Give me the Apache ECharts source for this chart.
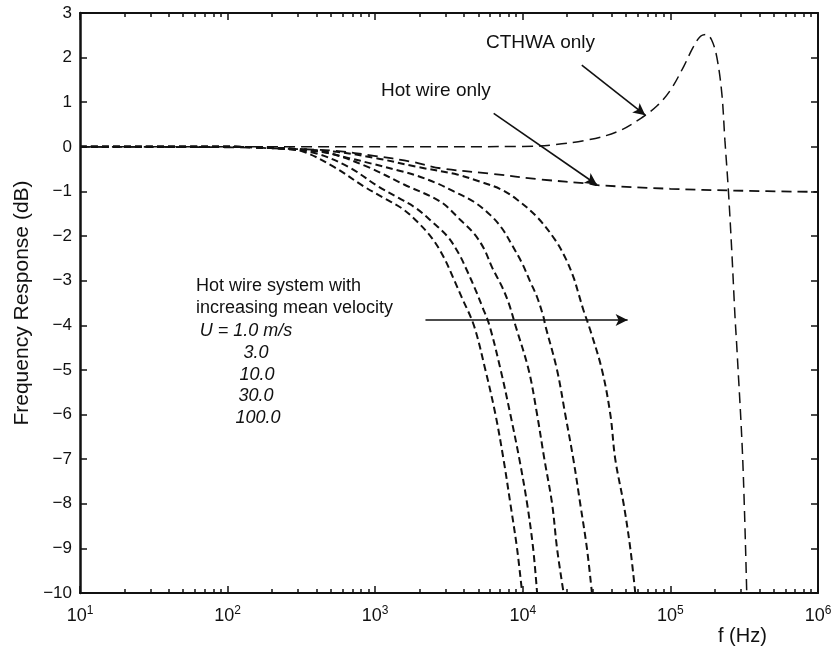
<!DOCTYPE html>
<html>
<head>
<meta charset="utf-8">
<script src="https://cdn.jsdelivr.net/npm/echarts@6/dist/echarts.min.js"></script>
<style>
  html, body { margin: 0; padding: 0; background: #fff; }
  #chart { width: 836px; height: 647px; }
</style>
</head>
<body>
<div id="chart"></div>
<script>
// 数据：[频率 Hz, 响应 dB]
var hotWireOnly = [[10, 0], [100, -0.01], [300, -0.05], [540, -0.09], [980, -0.2], [1740, -0.33],
  [2770, -0.48], [6030, -0.6], [13200, -0.73], [28600, -0.83], [32000, -0.86], [100000, -0.94],
  [270000, -0.98], [1000000, -1.01]];

var cthwaOnly = [[10, 0], [1000, 0], [10000, 0.01], [15500, 0.04], [27200, 0.15], [43700, 0.34],
  [63100, 0.64], [81300, 0.92], [100000, 1.27], [123000, 1.8], [143000, 2.24], [160000, 2.48],
  [175000, 2.52], [190000, 2.4], [206000, 2.02], [223000, 1.2], [234000, 0.15], [247000, -0.97],
  [261000, -2.39], [274000, -3.81], [282000, -4.5], [309000, -7], [329000, -10]];

var systemU1 = [[10, 0], [100, 0], [200, -0.02], [320, -0.1], [525, -0.45], [840, -0.89],
  [1150, -1.15], [1520, -1.38], [1930, -1.68], [2430, -2.05], [2920, -2.48], [3390, -2.95],
  [3890, -3.4], [4660, -4.0], [5580, -5], [6530, -6], [7400, -7], [8240, -8], [9140, -9], [9900, -10]];

var systemU3 = [[10, 0], [100, 0], [250, -0.05], [400, -0.15], [660, -0.45], [1050, -0.89],
  [1450, -1.15], [1900, -1.38], [2430, -1.68], [3090, -2.01], [3680, -2.39], [4170, -2.76],
  [4790, -3.21], [5310, -3.58], [5940, -4.0], [7080, -5], [8240, -6], [9480, -7], [10700, -8],
  [11750, -9], [12500, -10]];

var systemU10 = [[10, 0], [100, 0], [300, -0.05], [500, -0.15], [890, -0.45], [1580, -0.85],
  [2770, -1.23], [3780, -1.64], [4660, -1.94], [5450, -2.28], [6170, -2.69], [7240, -3.14],
  [8040, -3.51], [8910, -4.0], [10960, -5], [12500, -6], [14000, -7], [15800, -8], [17060, -9],
  [18900, -10]];

var systemU30 = [[10, 0], [100, 0], [400, -0.1], [680, -0.26], [930, -0.37], [1480, -0.54],
  [1930, -0.65], [2630, -0.82], [3410, -1.0], [4660, -1.23], [6030, -1.53], [7240, -1.83],
  [8450, -2.2], [9890, -2.61], [11220, -3.02], [12470, -3.36], [13800, -3.81], [14200, -4.0],
  [17060, -5], [19400, -6], [22000, -7], [24500, -8], [27200, -9], [29400, -10]];

var systemU100 = [[10, 0], [100, 0], [500, -0.1], [1000, -0.25], [1930, -0.45], [3590, -0.62],
  [5130, -0.78], [7080, -0.95], [9120, -1.18], [12470, -1.57], [16600, -2.09], [19500, -2.5],
  [22100, -2.93], [24000, -3.32], [25700, -3.65], [28600, -4.1], [34400, -5], [39200, -6],
  [42300, -7], [48200, -8], [53500, -9], [57800, -10]];

// 箭头：[[起点], [终点]]
var arrowCthwa = [[25100, 1.83], [67600, 0.71]];
var arrowHotWire = [[6350, 0.75], [31800, -0.85]];
var arrowVelocity = [[2190, -3.88], [51300, -3.88]];

// 刻度
var decadeTicks = [10, 100, 1000, 10000, 100000, 1000000];
var minorTicks = [20, 30, 40, 50, 60, 70, 80, 90,
  200, 300, 400, 500, 600, 700, 800, 900,
  2000, 3000, 4000, 5000, 6000, 7000, 8000, 9000,
  20000, 30000, 40000, 50000, 60000, 70000, 80000, 90000,
  200000, 300000, 400000, 500000, 600000, 700000, 800000, 900000];

var velocityLines = ['U = 1.0 m/s', '3.0', '10.0', '30.0', '100.0'];

var FONT = '"Liberation Sans", Arial, sans-serif';
var INK = '#111';

var chartDom = document.getElementById('chart');
var myChart = echarts.init(chartDom);

function xAxisBase(position, extra) {
  var axis = {
    type: 'log',
    logBase: 10,
    min: 10,
    max: 1000000,
    position: position,
    axisLine: { show: true, onZero: false, lineStyle: { color: INK, width: 2 } },
    axisTick: { show: true, inside: true, length: 4, customValues: minorTicks.concat(decadeTicks),
      lineStyle: { color: INK, width: 1.5 } },
    axisLabel: { show: false },
    splitLine: { show: false }
  };
  return Object.assign(axis, extra || {});
}

function dashed(data, dash, width) {
  return {
    type: 'line',
    data: data,
    smooth: 0.35,
    showSymbol: false,
    symbol: 'none',
    silent: true,
    clip: true,
    lineStyle: { color: INK, width: width, type: dash }
  };
}

function arrow(pair) {
  return [{ coord: pair[0] }, { coord: pair[1] }];
}

var texts = [
  { text: 'CTHWA only', x: 486, y: 45, size: 19 },
  { text: 'Hot wire only', x: 381, y: 93, size: 19 },
  { text: 'Hot wire system with', x: 196, y: 288, size: 18 },
  { text: 'increasing mean velocity', x: 196, y: 310, size: 18 }
];
var graphics = texts.map(function (t) {
  return {
    type: 'text', left: t.x, top: t.y - t.size * 0.6, silent: true,
    style: { text: t.text, font: t.size + 'px ' + FONT, fill: INK }
  };
});
var velocityCenters = [246, 256, 257, 256, 258];
velocityLines.forEach(function (label, i) {
  graphics.push({
    type: 'text', silent: true,
    x: velocityCenters[i], y: 331 + i * 21.8,
    style: { text: label, font: 'italic 18px ' + FONT, fill: INK, textAlign: 'center', textVerticalAlign: 'middle' }
  });
});
graphics.push({
  type: 'text', silent: true, x: 718, y: 636,
  style: { text: 'f (Hz)', font: '20px ' + FONT, fill: INK, textAlign: 'left', textVerticalAlign: 'middle' }
});

var option = {
  animation: false,
  backgroundColor: '#fff',
  grid: { left: 80, right: 18, top: 13, bottom: 54 },
  xAxis: [
    xAxisBase('bottom', {
      axisLabel: {
        show: true,
        margin: 12,
        customValues: decadeTicks,
        formatter: function (v) {
          return '{b|10}{s|' + Math.round(Math.log10(v)) + '}';
        },
        rich: {
          b: { fontSize: 18, fontFamily: FONT, color: INK, lineHeight: 20, verticalAlign: 'bottom' },
          s: { fontSize: 12, fontFamily: FONT, color: INK, lineHeight: 12, verticalAlign: 'top' }
        }
      }
    }),
    xAxisBase('bottom', { axisTick: { show: true, inside: true, length: 7, customValues: decadeTicks,
      lineStyle: { color: INK, width: 1.5 } }, axisLine: { show: false, onZero: false } }),
    xAxisBase('top'),
    xAxisBase('top', { axisTick: { show: true, inside: true, length: 7, customValues: decadeTicks,
      lineStyle: { color: INK, width: 1.5 } }, axisLine: { show: false, onZero: false } })
  ],
  yAxis: [
    {
      type: 'value',
      min: -10,
      max: 3,
      interval: 1,
      position: 'left',
      name: 'Frequency Response (dB)',
      nameLocation: 'middle',
      nameGap: 43,
      nameTextStyle: { fontSize: 21, fontFamily: FONT, color: INK },
      axisLine: { show: true, onZero: false, lineStyle: { color: INK, width: 2.5 } },
      axisTick: { show: true, inside: true, length: 7, lineStyle: { color: INK, width: 1.5 } },
      axisLabel: {
        margin: 8,
        fontSize: 17,
        fontFamily: FONT,
        color: INK,
        formatter: function (v) { return String(v).replace('-', '\u2212'); }
      },
      splitLine: { show: false }
    },
    {
      type: 'value',
      min: -10,
      max: 3,
      interval: 1,
      position: 'right',
      axisLine: { show: true, onZero: false, lineStyle: { color: INK, width: 2 } },
      axisTick: { show: true, inside: true, length: 7, lineStyle: { color: INK, width: 1.5 } },
      axisLabel: { show: false },
      splitLine: { show: false }
    }
  ],
  series: [
    dashed(systemU1, [7, 4], 2),
    dashed(systemU3, [7, 4], 2),
    dashed(systemU10, [7, 4], 2),
    dashed(systemU30, [7, 4], 2),
    dashed(systemU100, [7, 4], 2),
    dashed(hotWireOnly, [10, 6], 1.8),
    Object.assign(dashed(cthwaOnly, [11, 6], 1.5), {
      markLine: {
        silent: true,
        symbol: ['none', 'arrow'],
        symbolSize: [9, 12],
        label: { show: false },
        lineStyle: { color: INK, width: 1.6, type: 'solid' },
        emphasis: { disabled: true },
        data: [arrow(arrowCthwa), arrow(arrowHotWire), arrow(arrowVelocity)]
      }
    })
  ],
  graphic: graphics
};

myChart.setOption(option);
window.addEventListener('resize', function () {
  myChart.resize();
});
</script>
</body>
</html>
